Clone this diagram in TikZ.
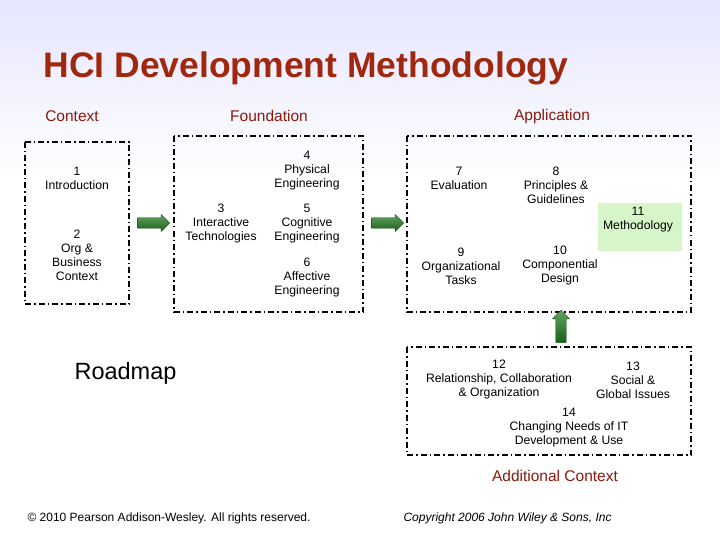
\documentclass[tikz,border=0pt]{standalone}
\usepackage{fontspec}
\setmainfont{Liberation Sans}
\usetikzlibrary{shapes.arrows}
\definecolor{ttl}{HTML}{A0280E}
\definecolor{hdr}{HTML}{8B1A0A}
\definecolor{arr}{HTML}{1E7A1E}
\definecolor{meth}{HTML}{D6F5C9}
\tikzset{
 grp/.style={draw=black,line width=1.6pt,dash pattern=on 6pt off 3pt on 1.5pt off 3pt},
 itm/.style={align=center,font=\fontsize{12.2}{14}\selectfont,inner sep=1pt},
 hd/.style={font=\fontsize{15.5}{17}\selectfont,text=hdr},
 garr/.style={single arrow,fill=arr,draw=arr!70!black,minimum height=32pt,minimum width=17pt,single arrow head extend=2pt,inner sep=3pt,shading=axis,top color=arr!70!white,bottom color=arr!80!black}
}
\begin{document}
\begin{tikzpicture}[x=1pt,y=-1pt]
\useasboundingbox (0,0) rectangle (720,540);
\shade[top color=blue!10!white,bottom color=white] (0,0) rectangle (720,180);
\fill[white] (0,180) rectangle (720,540);
\node[anchor=west,font=\fontsize{35.5}{38}\selectfont\bfseries,text=ttl] (title) at (40,68) {HCI Development Methodology};
\node[hd] (hc) at (72,116) {Context};
\node[hd] (hf) at (269,116) {Foundation};
\node[hd] (ha) at (552,116) {Application};
\draw[grp] (25,142) rectangle (129,304);
\draw[grp] (174,136) rectangle (363,312);
\draw[grp] (407,136) rectangle (691,312);
\draw[grp] (407,347) rectangle (691,455);
\fill[meth] (598,203) rectangle (682,251);
\node[itm] (n1) at (77,178) {1\\Introduction};
\node[itm] (n2) at (77,255) {2\\Org \&\\Business\\Context};
\node[itm] (n3) at (221,224) {3\\Interactive\\Technologies};
\node[itm] (n4) at (307,171) {4\\Physical\\Engineering};
\node[itm] (n5) at (307,224) {5\\Cognitive\\Engineering};
\node[itm] (n6) at (307,278) {6\\Affective\\Engineering};
\node[itm] (n7) at (459,178) {7\\Evaluation};
\node[itm] (n8) at (556,185) {8\\Principles \&\\Guidelines};
\node[itm] (n11) at (638,220) {11\\Methodology};
\node[itm] (n9) at (461,266) {9\\Organizational\\Tasks};
\node[itm] (n10) at (560,266) {10\\Componential\\Design};
\node[itm] (n12) at (499,380) {12\\Relationship, Collaboration\\\& Organization};
\node[itm] (n13) at (633,380) {13\\Social \&\\Global Issues};
\node[itm] (n14) at (569,428) {14\\Changing Needs of IT\\Development \& Use};
\node[hd] (hac) at (555,476) {Additional Context};
\node[font=\fontsize{23.5}{26}\selectfont,anchor=west] (rm) at (71,373) {Roadmap};
\node[garr] (a1) at (151,223) {};
\node[garr] (a2) at (385,223) {};
\node[garr,rotate=90] (a3) at (561,329) {};
\node[anchor=west,font=\fontsize{12}{14}\selectfont] (cp1) at (24,518) {© 2010 Pearson Addison-Wesley. All rights reserved.};
\node[anchor=west,font=\fontsize{12}{14}\selectfont\itshape] (cp2) at (400,518) {Copyright 2006 John Wiley \& Sons, Inc};
\end{tikzpicture}
\end{document}
